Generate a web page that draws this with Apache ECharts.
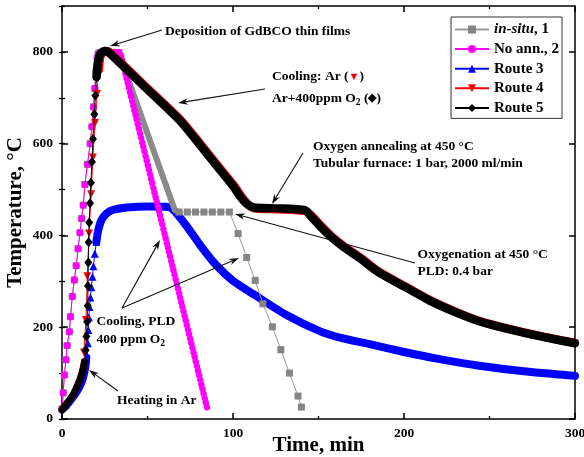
<!DOCTYPE html>
<html>
<head>
<meta charset="utf-8">
<script src="https://cdn.jsdelivr.net/npm/echarts@6/dist/echarts.min.js"></script>
<style>
  html, body { margin: 0; padding: 0; background: #fff; }
  #chart { width: 584px; height: 457px; }
</style>
</head>
<body>
<div id="chart"></div>
<script>
const FONT = '"Liberation Serif", "Times New Roman", serif';

// ---- axes ----
const xRange = [0, 300];
const xStep = 100;
const yRange = [0, 900];
const yLabelTicks = [0, 200, 400, 600, 800];
const yMinorStep = 100;

// ---- heating ramp shared by the in-situ and No ann. runs (sparse markers) ----
const fastHeatT = [0, 0.7, 1.4, 2.3, 3.0, 4.3, 5.0, 6.0, 7.2, 8.3, 9.4, 10.5, 11.5, 12.4, 13.4, 14.9, 16.5, 17.5, 18.4, 19.2, 20.0, 20.6];
const fastHeatY = [22, 57, 96, 129, 160, 190, 223, 267, 303, 334, 371, 406, 437, 466, 511, 555, 600, 637, 680, 720, 758, 785];

// ---- No ann., 2: deposition plateau and cooling (dense record) ----
const noAnnCoolT = [20.6, 21, 34, 85];
const noAnnCoolY = [785, 800, 800, 22];

// ---- in-situ, 1: cooling band, then oxygenation plateau and final cooling ----
const inSituCoolT = [20.6, 21, 33, 66, 68.5];
const inSituCoolY = [785, 800, 800, 455, 451];
const inSituTailT = [68.5, 73.3, 78.1, 83, 87.9, 92.9, 97.9, 103, 108, 113, 117.5, 123, 128, 133, 138, 140];
const inSituTailY = [451, 451, 451, 451, 451, 451, 451, 404, 352, 302, 251, 201, 151, 100, 50, 26];

// ---- Route 3 (blue) ----
const r3RampT = [0, 2.7, 5.5, 8.6, 10.5, 12.5, 13.8, 14.5, 14.8];
const r3RampY = [18, 27, 40, 56, 68, 85, 105, 120, 135];
const r3HeatT = [15.1, 15.4, 15.7, 16.1, 16.6, 17.2, 17.8, 18.4, 19.2, 20.1];
const r3HeatY = [165, 194, 221, 244, 265, 287, 310, 333, 360, 386];
const r3CoolT = [20.1, 21, 23, 26, 30, 38, 50, 62, 64.5, 67.5, 73, 81, 90, 100, 112, 131, 151, 165, 180, 200, 220, 244, 270, 300];
const r3CoolY = [386, 408, 433, 448, 456, 461, 463, 462, 458, 446, 420, 378, 336, 301, 272, 227, 191, 175, 163, 146, 131, 116, 104, 94];

// ---- heating in Ar, shared start of Routes 4 and 5 (dense) ----
const arRampT = [0, 1.5, 3, 4.5, 6, 7.5, 9, 10.5, 12, 13.2];
const arRampY = [20, 27, 35, 42, 50, 60, 72, 86, 104, 125];

// ---- Route 4 (red) ----
const r4HeatT = [12.9, 14.0, 14.8, 15.8, 17.0, 18.1, 19.3, 20.4, 21.5];
const r4HeatY = [145, 216, 311, 404, 490, 570, 645, 708, 760];
const r4CoolT = [21.5, 22.3, 23.5, 25.5, 27.7, 48.7, 69.7, 87.2, 100.7, 104.7, 108.7, 112.7, 125.7, 142.7, 146.7, 150.7, 157.7, 165.7, 174.7, 185.7, 200.7, 215.7, 230.7, 244.7, 260.7, 280.7, 300];
const r4CoolY = [760, 788, 797, 802, 800, 725, 650, 570, 508, 486, 468, 459, 457, 453, 440, 424, 398, 374, 351, 320, 289, 258, 233, 213, 197, 180, 166];

// ---- Route 5 (black) ----
const r5HeatT = [13.8, 14.3, 14.7, 15.0, 15.2, 15.4, 15.6, 15.9, 16.4, 16.9, 17.5, 18.1, 18.9, 19.5, 20.2];
const r5HeatY = [150, 180, 212, 247, 290, 341, 385, 428, 470, 515, 560, 610, 664, 705, 745];
const r5CoolT = [20.2, 20.8, 21.8, 23, 25, 27, 48, 69, 86.5, 100, 104, 108, 112, 125, 142, 146, 150, 157, 165, 174, 185, 200, 215, 230, 244, 260, 280, 300];
const r5CoolY = [745, 772, 790, 798, 802, 800, 725, 650, 570, 508, 486, 469, 461, 459, 455, 440, 424, 398, 374, 351, 320, 289, 258, 233, 213, 197, 180, 165];

const pairs = (t, y) => t.map((v, i) => [v, y[i]]);
const quiet = (t, y) => pairs(t, y).map(p => ({ value: p, symbol: 'none' }));

function band(name, t, y, color, width, z, opts) {
  opts = opts || {};
  return {
    name, type: 'line', data: pairs(t, y), symbol: 'none', z,
    silent: true,
    smooth: opts.smooth || false,
    lineStyle: opts.dash
      ? { color, width, type: opts.dash, cap: 'round' }
      : { color, width, cap: 'round', join: 'round' }
  };
}
function route(name, data, color, symbol, size, z, extra) {
  return Object.assign({
    name, type: 'line', data, z,
    symbol, symbolSize: size, showAllSymbol: true,
    smooth: 0.2,
    itemStyle: { color },
    lineStyle: { color, width: 1 }
  }, extra || {});
}

const series = [
  // Route 3 (bottom of the stack)
  route('Route 3', [...quiet(r3RampT, r3RampY), ...pairs(r3HeatT, r3HeatY), ...quiet(r3CoolT, r3CoolY)],
    '#0000ff', 'triangle', 8, 2),
  band('r3-ramp', r3RampT, r3RampY, '#0000ff', 6, 2, { smooth: 0.2 }),
  band('r3-cool', r3CoolT, r3CoolY, '#0000ff', 8, 2, { smooth: 0.2 }),
  // in-situ, 1
  route('in-situ, 1', [...pairs(fastHeatT, fastHeatY), ...quiet(inSituCoolT, inSituCoolY), ...pairs(inSituTailT, inSituTailY)],
    '#858585', 'rect', 7, 3, { smooth: false, lineStyle: { color: '#9a9a9a', width: 1 } }),
  band('insitu-cool', inSituCoolT, inSituCoolY, '#8a8a8a', 6, 3),
  // No ann., 2
  route('No ann., 2', [...pairs(fastHeatT, fastHeatY), ...quiet(noAnnCoolT, noAnnCoolY)],
    '#ff00ff', 'circle', 7, 4, { smooth: false }),
  band('noann-cool', noAnnCoolT, noAnnCoolY, '#ff00ff', 6.5, 4, { dash: [0.1, 4.6] }),
  // Route 4
  route('Route 4', [...quiet(arRampT, arRampY), ...pairs(r4HeatT, r4HeatY), ...quiet(r4CoolT, r4CoolY)],
    '#ff0000', 'triangle', 8, 5, { symbolRotate: 180 }),
  band('r4-ramp', arRampT, arRampY, '#ff0000', 7, 5, { smooth: 0.2 }),
  band('r4-cool', r4CoolT, r4CoolY, '#ff0000', 8.5, 5, { smooth: 0.2 }),
  // Route 5 (top)
  route('Route 5', [...quiet(arRampT, arRampY), ...pairs(r5HeatT, r5HeatY), ...quiet(r5CoolT, r5CoolY)],
    '#000000', 'diamond', [8, 10], 6),
  band('r5-ramp', arRampT, arRampY, '#000000', 7, 6, { smooth: 0.2 }),
  band('r5-cool', r5CoolT, r5CoolY, '#000000', 8.5, 6, { smooth: 0.2 })
];

// ---- annotation text and arrows (pixel layout) ----
const measureCtx = document.createElement('canvas').getContext('2d');
function textWidth(s, font) { measureCtx.font = font; return measureCtx.measureText(s).width; }

function label(x, y, parts) {
  const els = [];
  let cx = x;
  parts.forEach(p => {
    const size = p.size || (p.sub ? 9.5 : 13.5);
    const font = 'bold ' + size + 'px ' + FONT;
    els.push({
      type: 'text', x: cx, y: p.sub ? y + 4 : y, z: 100,
      style: { text: p.t, fontFamily: FONT, fontWeight: 'bold', fontSize: size,
               fill: p.color || '#000', verticalAlign: 'middle', align: 'left' }
    });
    cx += textWidth(p.t, font);
  });
  return els;
}
function arrow(tail, tip) {
  const dx = tip[0] - tail[0], dy = tip[1] - tail[1];
  const len = Math.hypot(dx, dy);
  const ux = dx / len, uy = dy / len, nx = -uy, ny = ux;
  const L = 10, W = 3.3, N = 7;
  const notch = [tip[0] - N * ux, tip[1] - N * uy];
  return [
    { type: 'polyline', z: 100, shape: { points: [tail, notch] },
      style: { stroke: '#111', lineWidth: 1.1, fill: null } },
    { type: 'polygon', z: 100,
      shape: { points: [tip, [tip[0] - L * ux + W * nx, tip[1] - L * uy + W * ny], notch,
                        [tip[0] - L * ux - W * nx, tip[1] - L * uy - W * ny]] },
      style: { fill: '#111', stroke: null } }
  ];
}

const graphics = [
  ...label(165, 31.5, [{ t: 'Deposition of GdBCO thin films' }]),
  ...arrow([162, 30], [110, 46]),
  ...label(272, 77, [{ t: 'Cooling: Ar (' }, { t: '\u25BC', color: '#ff0000', size: 11 }, { t: ')' }]),
  ...label(272, 98.5, [{ t: 'Ar+400ppm O' }, { t: '2', sub: true }, { t: ' (' }, { t: '\u25C6', size: 11 }, { t: ')' }]),
  ...arrow([265, 89], [178, 103]),
  ...label(313, 146.5, [{ t: 'Oxygen annealing at 450 \u00B0C' }]),
  ...label(313, 164, [{ t: 'Tubular furnace: 1 bar, 2000 ml/min' }]),
  ...arrow([303, 153], [272, 204]),
  ...label(417.5, 254.5, [{ t: 'Oxygenation at 450 \u00B0C' }]),
  ...label(417.5, 272, [{ t: 'PLD: 0.4 bar' }]),
  ...arrow([415, 263], [235, 214]),
  ...label(96.5, 321.5, [{ t: 'Cooling, PLD' }]),
  ...label(96.5, 339.5, [{ t: '400 ppm O' }, { t: '2', sub: true }]),
  ...arrow([122, 308], [160, 240]),
  ...arrow([122, 308], [239, 258]),
  ...label(117, 400.5, [{ t: 'Heating in Ar' }]),
  ...arrow([118, 391], [89, 370])
];

// ---- axis styling ----
const lineBlack = { color: '#000', width: 1.5 };
function xAxisDef(position, showLabels) {
  return {
    type: 'value', position, min: xRange[0], max: xRange[1], interval: xStep,
    axisLine: { show: true, onZero: false, lineStyle: lineBlack },
    axisTick: { show: true, inside: true, length: 6, lineStyle: lineBlack },
    minorTick: { show: true, splitNumber: 2, length: 3, lineStyle: { color: '#000', width: 1.3 } },
    splitLine: { show: false }, minorSplitLine: { show: false },
    axisLabel: { show: showLabels, margin: 8, color: '#000', fontFamily: FONT, fontWeight: 'bold', fontSize: 13.5 },
    name: showLabels ? 'Time, min' : '', nameLocation: 'middle', nameGap: 16, nameMoveOverlap: false,
    nameTextStyle: { color: '#000', fontFamily: FONT, fontWeight: 'bold', fontSize: 21 }
  };
}
function yAxisMajor(position, showLabels) {
  return {
    type: 'value', position, min: yRange[0], max: yRange[1], interval: yMinorStep,
    axisLine: { show: true, onZero: false, lineStyle: lineBlack },
    axisTick: { show: true, inside: true, length: 6, lineStyle: lineBlack, customValues: yLabelTicks },
    splitLine: { show: false },
    axisLabel: { show: showLabels, margin: 9, color: '#000', fontFamily: FONT, fontWeight: 'bold', fontSize: 13.5,
                 customValues: yLabelTicks },
    name: showLabels ? 'Temperature, \u00B0C' : '', nameLocation: 'middle', nameGap: 36, nameMoveOverlap: false,
    nameTextStyle: { color: '#000', fontFamily: FONT, fontWeight: 'bold', fontSize: 21 }
  };
}
function yAxisMinor(position) {
  return {
    type: 'value', position, min: yRange[0], max: yRange[1], interval: yMinorStep,
    axisLine: { show: false },
    axisTick: { show: true, inside: true, length: 3, lineStyle: { color: '#000', width: 1.3 } },
    splitLine: { show: false },
    axisLabel: { show: false }
  };
}

const chart = echarts.init(document.getElementById('chart'), null, { renderer: 'canvas' });
chart.setOption({
  animation: false,
  backgroundColor: '#fff',
  grid: { left: 62, right: 9, top: 6, bottom: 38, containLabel: false, outerBoundsMode: 'none' },
  xAxis: [xAxisDef('bottom', true), xAxisDef('top', false)],
  yAxis: [yAxisMajor('left', true), yAxisMajor('right', false), yAxisMinor('left'), yAxisMinor('right')],
  legend: {
    data: ['in-situ, 1', 'No ann., 2', 'Route 3', 'Route 4', 'Route 5'],
    orient: 'vertical', left: 451, top: 17,
    padding: [5, 3, 3, 3], itemGap: 4.6,
    itemWidth: 34, itemHeight: 10,
    borderColor: '#333', borderWidth: 1, borderRadius: 0,
    backgroundColor: '#fff',
    selectedMode: false,
    formatter: n => n === 'in-situ, 1' ? '{it|in-situ}, 1' : n,
    textStyle: {
      color: '#000', fontFamily: FONT, fontWeight: 'bold', fontSize: 15,
      rich: { it: { color: '#000', fontFamily: FONT, fontWeight: 'bold', fontStyle: 'italic', fontSize: 15 } }
    }
  },
  series,
  graphic: graphics
});
</script>
</body>
</html>
